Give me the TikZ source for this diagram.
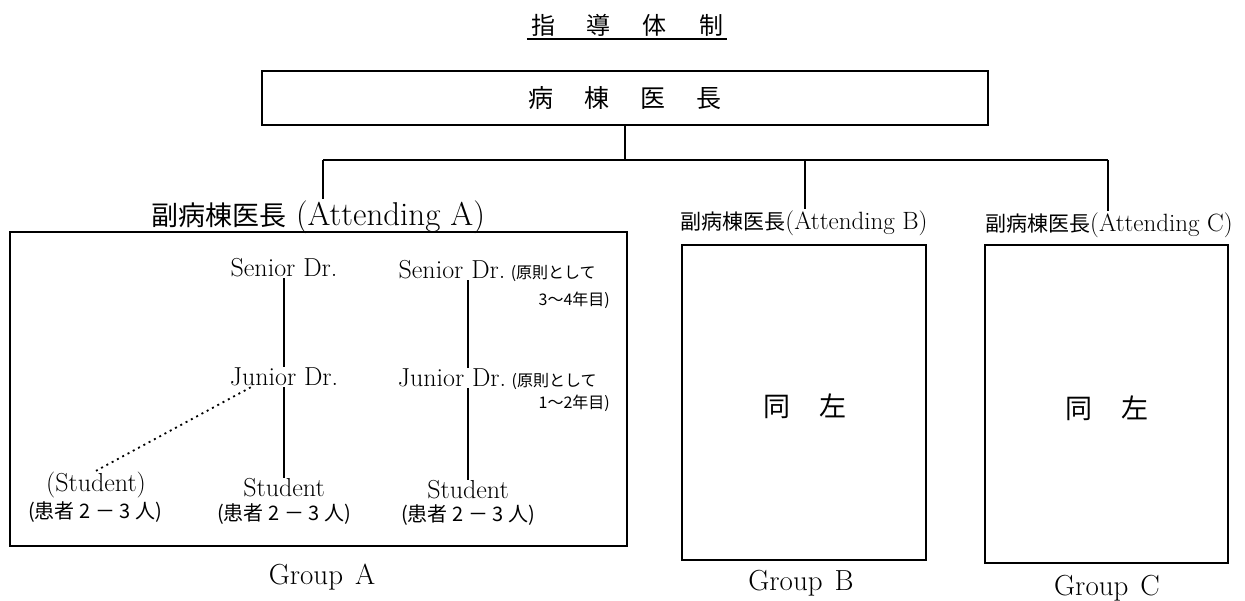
\documentclass[tikz,border=0pt]{standalone}
\usepackage{fontspec}
\newfontfamily\jp{Noto Sans CJK JP}
\usetikzlibrary{positioning,calc}
\tikzstyle{bx}=[draw, line width=1.6pt, inner sep=0pt]
\tikzstyle{lnk}=[line width=1.6pt]
\tikzstyle{dot}=[line width=1.8pt, dash pattern=on 2pt off 4pt]
\tikzstyle{dr}=[inner sep=1pt, font=\fontsize{26}{28}\selectfont]
\tikzstyle{pt}=[inner sep=1pt, font=\jp\fontsize{20}{22}\selectfont]
\tikzstyle{nt}=[inner sep=0pt, font=\jp\fontsize{16}{18}\selectfont]
\tikzstyle{grp}=[inner sep=0pt, font=\fontsize{29}{31}\selectfont]
\tikzstyle{att}=[inner sep=1pt]

\begin{document}
\begin{tikzpicture}[x=1pt, y=-1pt]
\useasboundingbox (0,0) rectangle (1245,601);
\node[inner sep=0pt, font=\jp\fontsize{24}{26}\selectfont] (title) at (627,25) {指\hspace{32pt}導\hspace{32pt}体\hspace{32pt}制};
\draw[lnk] ($(title.south west)+(-4,3)$) -- ($(title.south east)+(4,3)$);
\node[bx, minimum width=726pt, minimum height=54pt, font=\jp\fontsize{25}{27}\selectfont] (head) at (625,98) {病\hspace{31pt}棟\hspace{31pt}医\hspace{31pt}長};
\coordinate (bus) at (625,160);
\coordinate (busA) at (323,160);
\coordinate (busB) at (805,160);
\coordinate (busC) at (1108,160);
\node[att] (attA) at (318,217) {{\jp\fontsize{27}{29}\selectfont 副病棟医長}\hspace{10pt}{\fontsize{33}{35}\selectfont (Attending A)}};
\node[att] (attB) at (804,223) {{\jp\fontsize{21}{23}\selectfont 副病棟医長}{\fontsize{25}{27}\selectfont (Attending B)}};
\node[att] (attC) at (1109,225) {{\jp\fontsize{21}{23}\selectfont 副病棟医長}{\fontsize{25}{27}\selectfont (Attending C)}};
\draw[lnk] (head.south) -- (bus);
\draw[lnk] (busA) -- (busC);
\draw[lnk] (busA) -- (busA |- attA.north);
\draw[lnk] (busB) -- (busB |- attB.north);
\draw[lnk] (busC) -- (busC |- attC.north);
\node[bx, minimum width=617pt, minimum height=314pt] (boxA) at (318.5,389) {};
\node[bx, minimum width=244pt, minimum height=315pt] (boxB) at (804,402.5) {};
\node[bx, minimum width=243pt, minimum height=318pt] (boxC) at (1106.5,404) {};
\node[inner sep=0pt, font=\jp\fontsize{27}{29}\selectfont] (sameB) at (805,406) {同\hspace{29pt}左};
\node[inner sep=0pt, font=\jp\fontsize{27}{29}\selectfont] (sameC) at (1107,408) {同\hspace{29pt}左};
\node[dr] (sen1) at (284,268) {Senior Dr.};
\node[dr] (jun1) at (284,377) {Junior Dr.};
\node[dr] (stu1) at (284,488) {Student};
\node[pt] (pat1) at (284,514) {(患者 2 － 3 人)};
\node[dr] (sen2) at (452,270) {Senior Dr.};
\node[nt, anchor=base west] (nt1) at ([xshift=4pt]sen2.base east) {(原則として};
\node[nt, anchor=east] (nt2) at (610,300) {3〜4年目)};
\node[dr] (jun2) at (452,378) {Junior Dr.};
\node[nt, anchor=base west] (nt3) at ([xshift=4pt]jun2.base east) {(原則として};
\node[nt, anchor=east] (nt4) at (610,403) {1〜2年目)};
\node[dr] (stu2) at (468,490) {Student};
\node[pt] (pat2) at (468,515) {(患者 2 － 3 人)};
\node[dr] (stu0) at (96,485) {(Student)};
\node[pt] (pat0) at (95,512) {(患者 2 － 3 人)};
\draw[lnk] (sen1.south) -- (jun1.north);
\draw[lnk] (jun1.south) -- (stu1.north);
\draw[lnk] ([xshift=16pt]sen2.south) -- ([xshift=16pt]jun2.north);
\draw[lnk] ([xshift=16pt]jun2.south) -- (stu2.north);
\draw[dot] ($(jun1.south west)!0.2!(jun1.south east)$) -- (stu0.north);
\node[grp] (grpA) at (322,577) {Group\hspace{12pt}A};
\node[grp] (grpB) at (801,583) {Group\hspace{12pt}B};
\node[grp] (grpC) at (1107,588) {Group\hspace{12pt}C};
\end{tikzpicture}
\end{document}
